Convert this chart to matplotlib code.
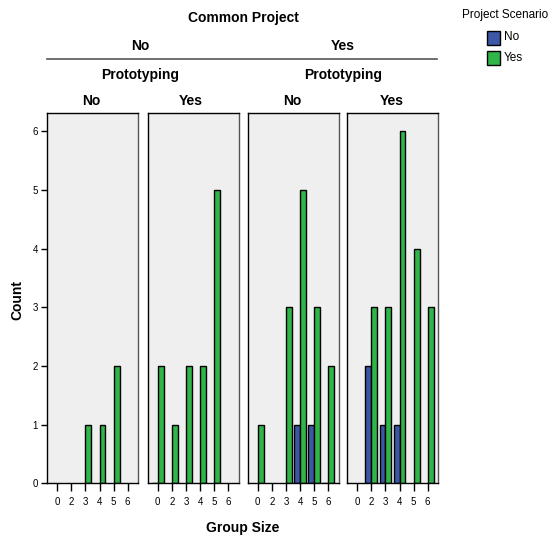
import numpy as np
import matplotlib.pyplot as plt

plt.rcParams['font.family'] = ['Liberation Sans', 'DejaVu Sans']

W, H = 555, 538

group_sizes = ["0", "2", "3", "4", "5", "6"]
count_ticks = [0, 1, 2, 3, 4, 5, 6]
common_project = ["No", "Yes"]
prototyping = ["No", "Yes"]
scenario = ["No", "Yes"]

nan = np.nan
# counts per group size; nan = no bar drawn, 0 = empty bar drawn as a flat line
cpno_protono_scen_no = [nan, nan, nan, nan, nan, nan]
cpno_protono_scen_yes = [nan, nan, 1, 1, 2, nan]
cpno_protoyes_scen_no = [0, nan, nan, nan, nan, nan]
cpno_protoyes_scen_yes = [2, 1, 2, 2, 5, nan]
cpyes_protono_scen_no = [nan, nan, nan, 1, 1, 0]
cpyes_protono_scen_yes = [1, nan, 3, 5, 3, 2]
cpyes_protoyes_scen_no = [nan, 2, 1, 1, nan, nan]
cpyes_protoyes_scen_yes = [nan, 3, 3, 6, 4, 3]

panels = [
    (cpno_protono_scen_no, cpno_protono_scen_yes),
    (cpno_protoyes_scen_no, cpno_protoyes_scen_yes),
    (cpyes_protono_scen_no, cpyes_protono_scen_yes),
    (cpyes_protoyes_scen_no, cpyes_protoyes_scen_yes),
]

col_no = "#3B57A5"
col_yes = "#2FB548"
bg = "#EFEFEF"


def px(x, y):
    # pixel coords (from top-left) -> figure fraction
    return x / W, 1 - y / H


fig = plt.figure(figsize=(W / 100, H / 100), dpi=100)

lefts = [47, 147.5, 247.5, 347]
pw = 91
top, bottom = 113.3, 483.3
bw = 0.42
xs = np.arange(len(group_sizes))

for k, (vals_no, vals_yes) in enumerate(panels):
    ax = fig.add_axes([lefts[k] / W, 1 - bottom / H, pw / W, (bottom - top) / H])
    ax.set_facecolor(bg)
    for x, v in zip(xs, vals_no):
        if not np.isnan(v):
            ax.bar(x - bw, v, width=bw, align="edge", color=col_no,
                   edgecolor="black", linewidth=1)
    for x, v in zip(xs, vals_yes):
        if not np.isnan(v):
            ax.bar(x, v, width=bw, align="edge", color=col_yes,
                   edgecolor="black", linewidth=1)
    ax.set_xlim(-0.73, 5.73)
    ax.set_ylim(0, 6.31)
    ax.set_xticks(xs)
    ax.set_xticklabels(group_sizes, fontsize=7)
    ax.tick_params(axis="x", length=5.5, width=1, pad=4.5)
    if k == 0:
        ax.set_yticks(count_ticks)
        ax.set_yticklabels([str(t) for t in count_ticks], fontsize=7)
        ax.tick_params(axis="y", length=4.5, width=1, pad=2)
    else:
        ax.set_yticks([])
    for s in ax.spines.values():
        s.set_linewidth(1)
        s.set_color("black")
    ax.spines["right"].set_color("#555555")

# header labels
fig.text(*px(243, 18), "Common Project", ha="center", va="center",
         fontsize=10, fontweight="bold")
for cx, lab in zip([140, 343], common_project):
    fig.text(*px(cx, 46), lab, ha="center", va="center", fontsize=10,
             fontweight="bold")
    fig.text(*px(cx, 75), "Prototyping", ha="center", va="center",
             fontsize=10, fontweight="bold")
fig.add_artist(plt.Line2D([47 / W, 437 / W], [1 - 58.5 / H, 1 - 58.5 / H],
                          color="#555555", linewidth=1.2))
for cx, lab in zip([91, 191, 292, 392], prototyping * 2):
    fig.text(*px(cx, 101), lab, ha="center", va="center", fontsize=10,
             fontweight="bold")

fig.text(*px(17, 300), "Count", rotation=90, ha="center", va="center",
         fontsize=10, fontweight="bold")
fig.text(*px(243, 528), "Group Size", ha="center", va="center",
         fontsize=10, fontweight="bold")

# legend
fig.text(*px(505, 15), "Project Scenario", ha="center", va="center", fontsize=8.5)
for cy, lab, c in zip([37.5, 58], scenario, [col_no, col_yes]):
    fig.add_artist(plt.Rectangle(px(487, cy + 7), 13 / W, 14 / H,
                                 facecolor=c, edgecolor="black", linewidth=1))
    fig.text(*px(504, cy), lab, ha="left", va="center", fontsize=8.5)

fig.savefig("out.png", dpi=100)
